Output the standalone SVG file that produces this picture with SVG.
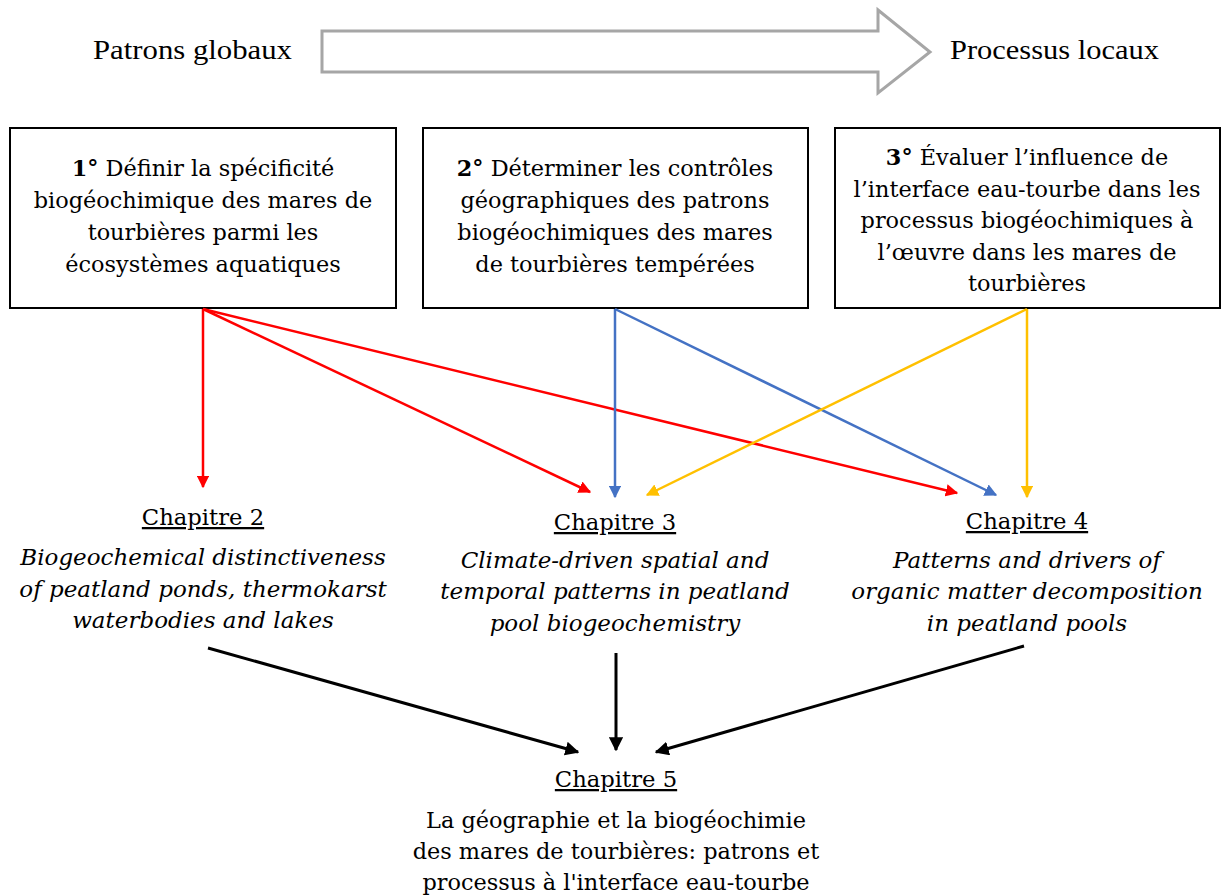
<svg xmlns="http://www.w3.org/2000/svg" width="1223" height="895" viewBox="0 0 1223 895">
<style>
.t{font-family:"DejaVu Serif","Liberation Serif",serif;font-size:22.4px;fill:#000;text-anchor:middle}
.i{font-style:italic;font-size:23px}
.h{font-family:"Liberation Serif",serif;font-size:27px;fill:#000}
.u{text-decoration:underline;font-size:22.7px}
.box{fill:#fff;stroke:#000;stroke-width:2}
.r{stroke:#ff0000;stroke-width:2.5;fill:none}
.b{stroke:#4472c4;stroke-width:2.5;fill:none}
.y{stroke:#ffc000;stroke-width:2.5;fill:none}
.k{stroke:#000;stroke-width:3;fill:none}
</style>
<defs>
<marker id="mr" viewBox="0 0 10 10" refX="9" refY="5" markerWidth="5" markerHeight="5" orient="auto" markerUnits="strokeWidth"><path d="M0,0L10,5L0,10z" fill="#ff0000"/></marker>
<marker id="mb" viewBox="0 0 10 10" refX="9" refY="5" markerWidth="5" markerHeight="5" orient="auto" markerUnits="strokeWidth"><path d="M0,0L10,5L0,10z" fill="#4472c4"/></marker>
<marker id="my" viewBox="0 0 10 10" refX="9" refY="5" markerWidth="5" markerHeight="5" orient="auto" markerUnits="strokeWidth"><path d="M0,0L10,5L0,10z" fill="#ffc000"/></marker>
<marker id="mk" viewBox="0 0 10 10" refX="9" refY="5" markerWidth="4.7" markerHeight="4.7" orient="auto" markerUnits="strokeWidth"><path d="M0,0L10,5L0,10z" fill="#000"/></marker>
</defs>

<g id="header">
<text class="h" x="93" y="59" textLength="199" lengthAdjust="spacingAndGlyphs">Patrons globaux</text>
<path d="M322,31 L878,31 L878,10 L930,52 L878,93 L878,72 L322,72 Z" fill="#fff" stroke="#a6a6a6" stroke-width="3"/>
<text class="h" x="950" y="59" textLength="209" lengthAdjust="spacingAndGlyphs">Processus locaux</text>
</g>

<g id="obj1">
<rect class="box" x="10" y="128" width="386" height="180"/>
<text class="t" x="203" y="176"><tspan font-weight="bold">1°</tspan> Définir la spécificité</text>
<text class="t" x="203" y="208">biogéochimique des mares de</text>
<text class="t" x="203" y="240">tourbières parmi les</text>
<text class="t" x="203" y="272">écosystèmes aquatiques</text>
</g>

<g id="obj2">
<rect class="box" x="423" y="128" width="385" height="180"/>
<text class="t" x="615" y="176"><tspan font-weight="bold">2°</tspan> Déterminer les contrôles</text>
<text class="t" x="615" y="208">géographiques des patrons</text>
<text class="t" x="615" y="240">biogéochimiques des mares</text>
<text class="t" x="615" y="272">de tourbières tempérées</text>
</g>

<g id="obj3">
<rect class="box" x="835" y="128" width="385" height="180"/>
<text class="t" x="1027" y="165"><tspan font-weight="bold">3°</tspan> Évaluer l’influence de</text>
<text class="t" x="1027" y="197">l’interface eau-tourbe dans les</text>
<text class="t" x="1027" y="228">processus biogéochimiques à</text>
<text class="t" x="1027" y="260">l’œuvre dans les mares de</text>
<text class="t" x="1027" y="291">tourbières</text>
</g>

<g id="ch2">
<text class="t u" x="203" y="525">Chapitre 2</text>
<text class="t i" x="203" y="565">Biogeochemical distinctiveness</text>
<text class="t i" x="203" y="597">of peatland ponds, thermokarst</text>
<text class="t i" x="203" y="628">waterbodies and lakes</text>
</g>

<g id="ch3">
<text class="t u" x="615" y="530">Chapitre 3</text>
<text class="t i" x="615" y="568">Climate-driven spatial and</text>
<text class="t i" x="615" y="599">temporal patterns in peatland</text>
<text class="t i" x="615" y="631">pool biogeochemistry</text>
</g>

<g id="ch4">
<text class="t u" x="1027" y="529">Chapitre 4</text>
<text class="t i" x="1027" y="568">Patterns and drivers of</text>
<text class="t i" x="1027" y="599">organic matter decomposition</text>
<text class="t i" x="1027" y="631">in peatland pools</text>
</g>

<g id="ch5">
<text class="t u" x="616" y="787">Chapitre 5</text>
<text class="t" x="616" y="828">La géographie et la biogéochimie</text>
<text class="t" x="616" y="859">des mares de tourbières: patrons et</text>
<text class="t" x="616" y="890">processus à l'interface eau-tourbe</text>
</g>

<g id="connectors">
<line class="r" x1="203" y1="309" x2="203" y2="487" marker-end="url(#mr)"/>
<line class="r" x1="203" y1="309" x2="590" y2="492" marker-end="url(#mr)"/>
<line class="r" x1="203" y1="309" x2="957" y2="493" marker-end="url(#mr)"/>
<line class="b" x1="615" y1="309" x2="615" y2="497" marker-end="url(#mb)"/>
<line class="b" x1="615" y1="309" x2="996" y2="495" marker-end="url(#mb)"/>
<line class="y" x1="1027" y1="309" x2="647" y2="495" marker-end="url(#my)"/>
<line class="y" x1="1027" y1="309" x2="1027" y2="497" marker-end="url(#my)"/>
<line class="k" x1="208" y1="648" x2="578" y2="752" marker-end="url(#mk)"/>
<line class="k" x1="616" y1="653" x2="616" y2="750" marker-end="url(#mk)"/>
<line class="k" x1="1024" y1="646" x2="656" y2="752" marker-end="url(#mk)"/>
</g>
</svg>
